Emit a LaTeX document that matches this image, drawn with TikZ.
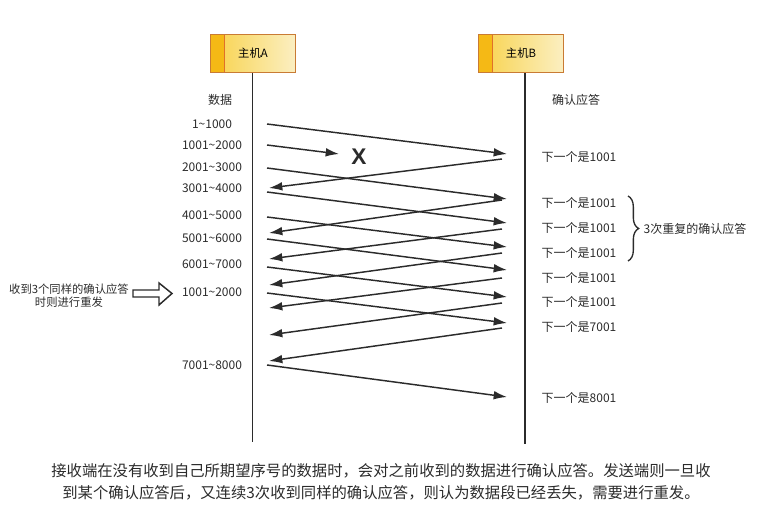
\documentclass[tikz,border=0pt]{standalone}
\usepackage{fontspec}
\setmainfont{Noto Sans CJK SC}
\newfontfamily\xfont{Liberation Sans}
\usetikzlibrary{arrows.meta,decorations.pathreplacing}
\definecolor{ink}{HTML}{2B2B2B}
\definecolor{hostedge}{HTML}{C97B34}
\definecolor{hostleft}{HTML}{F8D24A}
\definecolor{hostright}{HTML}{FBEFC2}
\definecolor{hoststrip}{HTML}{F5B915}
\definecolor{hostline}{HTML}{E0702A}
\newcommand{\rng}[2]{#1\textasciitilde#2}
\newcommand{\nxt}[1]{下一个是#1}

\begin{document}
\begin{tikzpicture}[x=0.75pt,y=-0.75pt,
    host/.style={draw=hostedge,line width=0.9pt,left color=hostleft,right color=hostright,
      minimum width=64pt,minimum height=29pt,inner sep=0pt,
      font=\fontsize{8.5}{10}\selectfont,
      path picture={\fill[hoststrip] (path picture bounding box.north west) rectangle
        ([xshift=10.5pt]path picture bounding box.south west);
        \draw[hostline,line width=0.9pt] ([xshift=10.5pt]path picture bounding box.north west) --
        ([xshift=10.5pt]path picture bounding box.south west);}},
    life/.style={line width=1.1pt,draw=ink},
    seg/.style={line width=1.1pt,draw=ink,-{Latex[length=10pt,width=6.5pt]}},
    lbl/.style={font=\fontsize{9}{10}\selectfont,text=ink,inner sep=1pt}]
  \useasboundingbox (0,0) rectangle (768,523);

  % hosts and lifelines
  \node[host] (hostA) at (253,53.5) {主机A};
  \node[host] (hostB) at (521,53.5) {主机B};
  \coordinate (endA) at (252.5,442);
  \coordinate (endB) at (525,444);
  \draw[life] (hostA.south -| endA) -- (endA);
  \draw[life] (hostB.south -| endB) -- (endB);
  \node[lbl] (data) at (220,100) {数据};
  \node[lbl] (ack) at (576,100) {确认应答};

  % sent segments
  \foreach \ya/\yb [count=\i] in {124/154,168/199,192/223,217/247,239/270,267/297,293/323,365/397}{
    \coordinate (snd\i) at (267,\ya);
    \coordinate (rcv\i) at (507,\yb);
    \draw[seg] (snd\i) -- (rcv\i);
  }
  % lost segment
  \coordinate (sndX) at (267,145);
  \coordinate (lost) at (339,154);
  \draw[seg] (sndX) -- (lost);
  \node[font=\xfont\bfseries\fontsize{17}{17}\selectfont,text=ink] (cross) at (359,157) {X};

  % acknowledgements
  \foreach \yb/\ya [count=\i] in {159/188,200/233,229/259,253/285,278/308,303/335,328/361}{
    \coordinate (ackB\i) at (502,\yb);
    \coordinate (ackA\i) at (269,\ya);
    \draw[seg] (ackB\i) -- (ackA\i);
  }

  % data ranges
  \foreach \y/\t [count=\i] in {124/\rng{1}{1000},145/\rng{1001}{2000},167/\rng{2001}{3000},
      188/\rng{3001}{4000},215/\rng{4001}{5000},238/\rng{5001}{6000},264/\rng{6001}{7000},
      292/\rng{1001}{2000},365/\rng{7001}{8000}}
    \node[lbl] (rng\i) at (212,\y) {\t};

  % replies
  \foreach \y/\t [count=\i] in {157/\nxt{1001},203/\nxt{1001},228/\nxt{1001},253/\nxt{1001},
      278/\nxt{1001},302/\nxt{1001},327/\nxt{7001},398/\nxt{8001}}
    \node[lbl] (rep\i) at (579,\y) {\t};

  % three duplicate acks
  \coordinate (brT) at (628,196);
  \coordinate (brB) at (628,261);
  \draw[decorate,decoration={brace,amplitude=8pt},line width=1pt,ink] (brT) -- (brB);
  \node[lbl,anchor=west] (dup) at (642,228.5) {3次重复的确认应答};

  % retransmit note
  \node[align=center,font=\fontsize{8.5}{10}\selectfont,text=ink] (note) at (69,295.5)
    {收到3个同样的确认应答\\时则进行重发};
  \draw[line width=1.1pt,ink,line join=miter] (133,290) -- (159,290) -- (159,283) -- (172,293.5)
    -- (159,305) -- (159,297) -- (133,297) -- cycle;

  % caption
  \node[align=center,font=\fontsize{11.5}{16.5}\selectfont,text=ink] (caption) at (381,482)
    {接收端在没有收到自己所期望序号的数据时，会对之前收到的数据进行确认应答。发送端则一旦收\\
     到某个确认应答后，又连续3次收到同样的确认应答，则认为数据段已经丢失，需要进行重发。};
\end{tikzpicture}
\end{document}
